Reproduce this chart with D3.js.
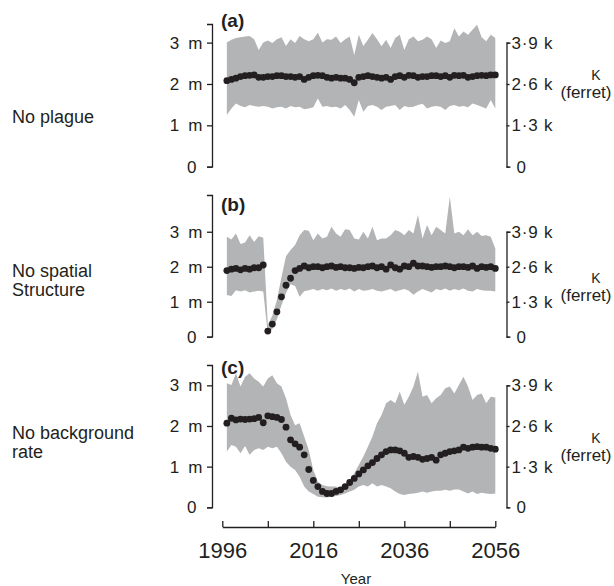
<!DOCTYPE html>
<html>
<head>
    <meta charset="utf-8" />
    <title>Ferret K scenarios</title>
    <style>
        body { margin: 0; background: #fff; }
        #chart { width: 614px; height: 586px; }
        text { font-family: "Liberation Sans", Arial, Helvetica, sans-serif; fill: #231f20; }
    </style>
</head>
<body>
    <div id="chart"></div>
    <script src="https://cdnjs.cloudflare.com/ajax/libs/d3/7.8.5/d3.min.js"></script>
    <script>
        // years simulated (one point per year)
        var years = [1997, 1998, 1999, 2000, 2001, 2002, 2003, 2004, 2005, 2006,
            2007, 2008, 2009, 2010, 2011, 2012, 2013, 2014, 2015, 2016,
            2017, 2018, 2019, 2020, 2021, 2022, 2023, 2024, 2025, 2026,
            2027, 2028, 2029, 2030, 2031, 2032, 2033, 2034, 2035, 2036,
            2037, 2038, 2039, 2040, 2041, 2042, 2043, 2044, 2045, 2046,
            2047, 2048, 2049, 2050, 2051, 2052, 2053, 2054, 2055, 2056]

        var scenarios = ["No plague", "No spatial\nStructure", "No background\nrate"]
        var panelLetters = ["(a)", "(b)", "(c)"]

        // prairie dog area (m), mean and band
        var meanA = [2.08, 2.11, 2.14, 2.18, 2.20, 2.21, 2.22, 2.16, 2.16, 2.18,
            2.18, 2.20, 2.20, 2.18, 2.18, 2.16, 2.18, 2.11, 2.16, 2.20,
            2.21, 2.20, 2.16, 2.14, 2.16, 2.14, 2.14, 2.11, 2.03, 2.16,
            2.18, 2.20, 2.18, 2.16, 2.14, 2.16, 2.11, 2.18, 2.20, 2.16,
            2.21, 2.20, 2.16, 2.18, 2.18, 2.20, 2.20, 2.18, 2.20, 2.16,
            2.21, 2.20, 2.21, 2.16, 2.18, 2.20, 2.21, 2.20, 2.22, 2.22]
        var upperA = [3.00, 3.07, 3.11, 3.13, 3.15, 3.16, 3.08, 2.82, 3.00, 3.05,
            2.99, 3.08, 3.13, 2.92, 3.08, 2.99, 3.16, 3.08, 3.03, 3.08,
            3.24, 3.00, 3.08, 3.07, 3.15, 2.99, 3.08, 3.15, 2.70, 3.19,
            2.92, 3.07, 3.23, 3.08, 2.91, 3.07, 2.87, 3.11, 3.19, 2.82,
            3.08, 3.15, 3.03, 3.07, 3.15, 3.08, 2.87, 3.05, 2.99, 3.03,
            3.35, 3.15, 3.27, 3.19, 3.31, 3.43, 3.13, 3.03, 3.19, 3.11]
        var lowerA = [1.25, 1.41, 1.53, 1.47, 1.44, 1.49, 1.47, 1.45, 1.47, 1.45,
            1.41, 1.44, 1.45, 1.41, 1.47, 1.44, 1.45, 1.39, 1.41, 1.44,
            1.65, 1.45, 1.47, 1.44, 1.45, 1.41, 1.49, 1.37, 1.21, 1.61,
            1.33, 1.47, 1.49, 1.45, 1.37, 1.45, 1.47, 1.49, 1.37, 1.47,
            1.44, 1.45, 1.49, 1.52, 1.41, 1.45, 1.47, 1.45, 1.37, 1.47,
            1.49, 1.45, 1.47, 1.44, 1.53, 1.49, 1.45, 1.41, 1.61, 1.41]

        var meanB = [1.89, 1.93, 1.95, 1.91, 1.95, 1.93, 1.97, 1.97, 2.05, 0.16,
            0.36, 0.71, 1.14, 1.47, 1.67, 1.89, 1.95, 2.02, 1.97, 2.00,
            2.00, 1.97, 2.00, 2.02, 1.98, 2.00, 1.97, 1.97, 1.95, 1.98,
            1.97, 2.00, 2.02, 1.97, 2.00, 1.93, 2.05, 1.97, 1.93, 2.02,
            2.00, 2.10, 2.02, 2.02, 2.00, 1.98, 2.00, 2.00, 2.02, 2.00,
            1.97, 2.00, 2.00, 1.98, 2.02, 1.95, 2.00, 1.98, 2.00, 1.95]
        var upperB = [2.86, 2.78, 2.95, 2.65, 2.69, 2.90, 2.71, 2.87, 2.83, 0.35,
            0.60, 1.05, 1.70, 2.30, 2.48, 2.62, 2.90, 3.05, 3.03, 2.76,
            2.95, 2.81, 2.86, 3.14, 2.95, 2.86, 3.07, 3.05, 2.81, 2.78,
            3.00, 2.81, 3.14, 2.76, 2.81, 2.81, 2.90, 3.05, 3.00, 2.90,
            3.05, 2.95, 3.48, 2.81, 3.19, 2.90, 3.14, 3.05, 2.95, 4.00,
            2.95, 3.00, 2.90, 3.07, 2.90, 3.00, 2.88, 2.90, 2.86, 2.52]
        var lowerB = [1.19, 1.16, 1.33, 1.29, 1.33, 1.26, 1.29, 1.31, 1.29, 0.08,
            0.22, 0.50, 0.90, 1.25, 1.50, 1.45, 1.14, 1.30, 1.33, 1.36,
            1.31, 1.36, 1.33, 1.38, 1.31, 1.36, 1.33, 1.38, 1.29, 1.36,
            1.31, 1.33, 1.36, 1.31, 1.29, 1.33, 1.36, 1.29, 1.33, 1.36,
            1.31, 1.20, 1.29, 1.36, 1.31, 1.26, 1.36, 1.33, 1.38, 1.31,
            1.36, 1.33, 1.38, 1.31, 1.29, 1.36, 1.33, 1.31, 1.31, 1.29]

        var meanC = [2.07, 2.19, 2.15, 2.17, 2.16, 2.17, 2.18, 2.21, 2.08, 2.25,
            2.23, 2.21, 2.16, 1.97, 1.66, 1.56, 1.48, 1.29, 0.93, 0.66,
            0.51, 0.39, 0.34, 0.34, 0.39, 0.43, 0.51, 0.61, 0.71, 0.82,
            0.92, 1.02, 1.10, 1.20, 1.29, 1.37, 1.41, 1.41, 1.39, 1.33,
            1.23, 1.25, 1.23, 1.18, 1.20, 1.23, 1.16, 1.29, 1.33, 1.37,
            1.39, 1.41, 1.48, 1.45, 1.48, 1.49, 1.48, 1.48, 1.45, 1.43]
        var upperC = [3.05, 3.01, 3.30, 2.97, 3.21, 3.30, 3.17, 3.09, 2.97, 3.17,
            3.25, 3.05, 2.97, 2.68, 2.27, 2.02, 2.07, 1.74, 1.41, 0.92,
            0.63, 0.55, 0.52, 0.51, 0.51, 0.47, 0.51, 0.67, 0.84, 1.04,
            1.25, 1.49, 1.74, 2.07, 2.27, 2.56, 2.64, 2.56, 2.84, 2.52,
            2.72, 2.97, 3.34, 2.72, 2.76, 2.56, 2.68, 2.76, 2.93, 2.97,
            2.80, 3.01, 3.21, 2.97, 2.64, 2.76, 2.80, 2.56, 2.72, 2.70]
        var lowerC = [1.37, 1.53, 1.49, 1.33, 1.51, 1.29, 1.41, 1.45, 1.41, 1.49,
            1.45, 1.49, 1.33, 1.12, 1.00, 0.92, 0.75, 0.51, 0.39, 0.33,
            0.26, 0.25, 0.24, 0.26, 0.28, 0.30, 0.34, 0.39, 0.43, 0.51,
            0.55, 0.51, 0.59, 0.51, 0.55, 0.51, 0.47, 0.39, 0.33, 0.30,
            0.33, 0.34, 0.36, 0.39, 0.36, 0.39, 0.41, 0.41, 0.43, 0.41,
            0.44, 0.44, 0.39, 0.34, 0.39, 0.33, 0.36, 0.34, 0.33, 0.34]

        // axis ticks
        var areaTicks = [0, 1, 2, 3]
        var ferretTicks = [0, 1300, 2600, 3900]
        var xTicks = [1996, 2006, 2016, 2026, 2036, 2046, 2056]
        var xTickLabels = [1996, 2016, 2036, 2056]

        // layout of the three stacked panels (pixels)
        var panels = [
            { mean: meanA, upper: upperA, lower: lowerA, zero: 166.7, top: 24, ymax: 3.45, letterY: 27, labelY: 123, kY: 80 },
            { mean: meanB, upper: upperB, lower: lowerB, zero: 336.7, top: 195, ymax: 4.05, letterY: 211, labelY: 277, kY: 283 },
            { mean: meanC, upper: upperC, lower: lowerC, zero: 507.3, top: 365, ymax: 3.5, letterY: 374, labelY: 439, kY: 443 }
        ]

        var ink = "#231f20"
        var bandColor = "#b3b4b6"
        var leftX = 212, rightX = 506.5

        var svg = d3.select("#chart").append("svg")
            .attr("width", 614)
            .attr("height", 586)

        var x = d3.scaleLinear().domain([1996, 2056]).range([222.3, 495.3])

        panels.forEach(function (p, pi) {
            var y = d3.scaleLinear().domain([0, p.ymax]).range([p.zero, p.top])
            var yK = d3.scaleLinear().domain([0, 3900]).range([p.zero, y(3)])

            var rows = years.map(function (yr, i) {
                return { year: yr, mean: p.mean[i], upper: p.upper[i], lower: p.lower[i] }
            })

            var band = d3.area()
                .x(function (d) { return x(d.year) })
                .y0(function (d) { return y(d.lower) })
                .y1(function (d) { return y(d.upper) })

            svg.append("path")
                .datum(rows)
                .attr("d", band)
                .attr("fill", bandColor)

            svg.append("g").selectAll("circle")
                .data(rows)
                .enter().append("circle")
                .attr("cx", function (d) { return x(d.year) })
                .attr("cy", function (d) { return y(d.mean) })
                .attr("r", 3.4)
                .attr("fill", ink)

            // left axis (area, m)
            var gl = svg.append("g")
                .attr("transform", "translate(" + leftX + ",0)")
                .call(d3.axisLeft(y).tickValues(areaTicks)
                    .tickSizeInner(5).tickSizeOuter(5).tickPadding(4)
                    .tickFormat(function (d) { return d === 0 ? "0" : d + " m" }))
            gl.selectAll("path, line").attr("stroke", ink).attr("stroke-width", 1.3)
            gl.selectAll("text")
                .attr("font-family", null)
                .style("font-size", "17px")
                .style("letter-spacing", "0.6px")
                .style("word-spacing", "3px")
                .attr("dx", function (d) { return d === 0 ? -6 : 0 })

            // right axis (K ferret)
            var gr = svg.append("g")
                .attr("transform", "translate(" + rightX + ",0)")
                .call(d3.axisRight(yK).tickValues(ferretTicks)
                    .tickSizeInner(3).tickSizeOuter(4).tickPadding(2)
                    .tickFormat(function (d) {
                        return d === 0 ? "0" : (d / 1000).toFixed(1).replace(".", "\u00b7") + " k"
                    }))
            gr.selectAll("path, line").attr("stroke", ink).attr("stroke-width", 1.3)
            gr.selectAll("text")
                .attr("font-family", null)
                .style("font-size", "17px")
                .style("letter-spacing", "0.8px")
                .attr("dx", function (d) { return d === 0 ? 5 : 0 })

            svg.append("text")
                .attr("x", 596).attr("y", p.kY)
                .attr("text-anchor", "middle")
                .style("font-size", "14px")
                .text("K")
            svg.append("text")
                .attr("x", 586).attr("y", p.kY + 18)
                .attr("text-anchor", "middle")
                .style("font-size", "17px")
                .text("(ferret)")

            svg.append("text")
                .attr("x", 221).attr("y", p.letterY)
                .style("font-size", "19px")
                .style("font-weight", "bold")
                .text(panelLetters[pi])

            var lines = scenarios[pi].split("\n")
            svg.append("text")
                .attr("x", 12).attr("y", p.labelY)
                .style("font-size", "18px")
                .selectAll("tspan")
                .data(lines)
                .enter().append("tspan")
                .attr("x", 12)
                .attr("dy", function (d, i) { return i === 0 ? 0 : 19 })
                .text(function (d) { return d })
        })

        // shared year axis, ticks pointing up
        var gx = svg.append("g")
            .attr("transform", "translate(0,527)")
            .call(d3.axisBottom(x).tickValues(xTicks)
                .tickSizeInner(-6).tickSizeOuter(0).tickPadding(15)
                .tickFormat(function (d) { return xTickLabels.indexOf(d) >= 0 ? d : "" }))
        gx.selectAll("path, line").attr("stroke", ink).attr("stroke-width", 1.3)
        gx.selectAll("text")
            .attr("font-family", null)
            .style("font-size", "22px")

        svg.append("text")
            .attr("x", 356).attr("y", 584)
            .attr("text-anchor", "middle")
            .style("font-size", "15px")
            .text("Year")
    </script>
</body>
</html>
